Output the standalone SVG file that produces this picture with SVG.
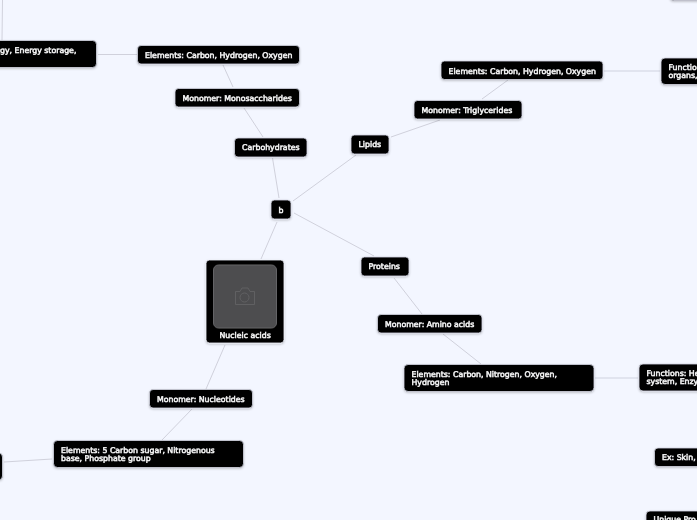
<svg xmlns="http://www.w3.org/2000/svg" width="697" height="520" viewBox="0 0 697 520">
<style>
.n{fill:#040406;stroke:#d4d6e2;stroke-width:.8}
.t{font-family:"DejaVu Sans",sans-serif;font-weight:400;font-size:7.8px;fill:#f4f4f4;stroke:#f4f4f4;stroke-width:.5}
.c{fill:none;stroke:#d0d1dc;stroke-width:1}
.c2{fill:none;stroke:#dcdeea;stroke-width:1.5}
</style>
<defs><filter id="s" x="-10%" y="-20%" width="120%" height="150%"><feDropShadow dx="0" dy="1" stdDeviation="1" flood-color="#000" flood-opacity="0.22"/></filter></defs>
<rect width="697" height="520" fill="#f3f6ff"/>
<g id="connectors">
<path class="c" d="M2.500 0L2 40M98 54.500H137M223 65L233 87M244 108L263 137M272.500 158L279 198M391 137L440 120M508 80L482 99M356 155L293 201M294 213L374 256M277 222L261 259M394 278L422 314M443 334L481 364M225 345L206 389M192 409L162 440M52 459L4 462"/>
<path class="c2" d="M604 71H660M595 378H638"/>
</g>
<g filter="url(#s)">
<g id="energy"><rect class="n" x="-20" y="40.500" width="116.500" height="27" rx="4"/><text class="t" x="0" y="53">gy, Energy storage,</text></g>
<g id="elements-carbs"><rect class="n" x="137.500" y="45.500" width="162" height="18.500" rx="3.500"/><text class="t" x="145" y="58">Elements: Carbon, Hydrogen, Oxygen</text></g>
<g id="monomer-mono"><rect class="n" x="175" y="88.500" width="124.500" height="18.500" rx="3.500"/><text class="t" x="182.500" y="101">Monomer: Monosaccharides</text></g>
<g id="carbohydrates"><rect class="n" x="234.500" y="138" width="72.500" height="19" rx="3.500"/><text class="t" x="242" y="150">Carbohydrates</text></g>
<g id="lipids"><rect class="n" x="351" y="135" width="38" height="19" rx="3.500"/><text class="t" x="358.500" y="147">Lipids</text></g>
<g id="monomer-trig"><rect class="n" x="414" y="100.500" width="108" height="18.500" rx="3.500"/><text class="t" x="421.500" y="113">Monomer: Triglycerides</text></g>
<g id="elements-lipids"><rect class="n" x="441" y="61" width="162" height="18.500" rx="3.500"/><text class="t" x="448.500" y="73.500">Elements: Carbon, Hydrogen, Oxygen</text></g>
<g id="functions-lipids"><rect class="n" x="661" y="58" width="60" height="26.500" rx="4"/><text class="t" x="668.500" y="70">Functions:</text><text class="t" x="668.500" y="78">organs,</text></g>
<g id="top-right"><rect class="n" x="670" y="-20" width="50" height="20.500" rx="3.500"/></g>
<g id="center"><rect class="n" x="271" y="200" width="20" height="19" rx="3.500"/><text class="t" x="278.500" y="213">b</text></g>
<g id="proteins"><rect class="n" x="361" y="257" width="48" height="19" rx="3.500"/><text class="t" x="368.500" y="269">Proteins</text></g>
<g id="nucleic-acids"><rect class="n" x="206" y="260" width="78" height="83" rx="3.500" style="stroke:#eef0f8"/><rect x="213.500" y="265" width="63" height="63" rx="5" fill="#4d4d4f" stroke="#646466"/>
<g fill="none" stroke="#606062" stroke-width="1"><path d="M235.500 291.500H240L242 288H248L250 291.500H254.500V304.500H235.500Z"/><circle cx="244.500" cy="297.500" r="4.500"/></g>
<text class="t" x="219.500" y="337.500">Nucleic acids</text></g>
<g id="monomer-amino"><rect class="n" x="377.500" y="314.500" width="104.500" height="18.500" rx="3.500"/><text class="t" x="385" y="327">Monomer: Amino acids</text></g>
<g id="elements-proteins"><rect class="n" x="404" y="364.500" width="190" height="27" rx="4"/><text class="t" x="411.500" y="377">Elements: Carbon, Nitrogen, Oxygen,</text><text class="t" x="411.500" y="385">Hydrogen</text></g>
<g id="functions-proteins"><rect class="n" x="639" y="364" width="80" height="27" rx="4"/><text class="t" x="646.500" y="376">Functions: He</text><text class="t" x="646.500" y="384">system, Enzy</text></g>
<g id="ex"><rect class="n" x="654.500" y="448" width="70" height="18.500" rx="3.500"/><text class="t" x="662" y="460">Ex: Skin,</text></g>
<g id="unique"><rect class="n" x="646" y="511" width="80" height="27" rx="4"/><text class="t" x="653.500" y="522">Unique Pro</text></g>
<g id="monomer-nucleotides"><rect class="n" x="149.500" y="389.500" width="103" height="18.500" rx="3.500"/><text class="t" x="157" y="402">Monomer: Nucleotides</text></g>
<g id="elements-nucleic"><rect class="n" x="53.500" y="440.500" width="190" height="27" rx="4"/><text class="t" x="61" y="453">Elements: 5 Carbon sugar, Nitrogenous</text><text class="t" x="61" y="461">base, Phosphate group</text></g>
<g id="functions-nucleic"><rect class="n" x="-20" y="453" width="22.500" height="27" rx="4"/></g>
</g>
</svg>
